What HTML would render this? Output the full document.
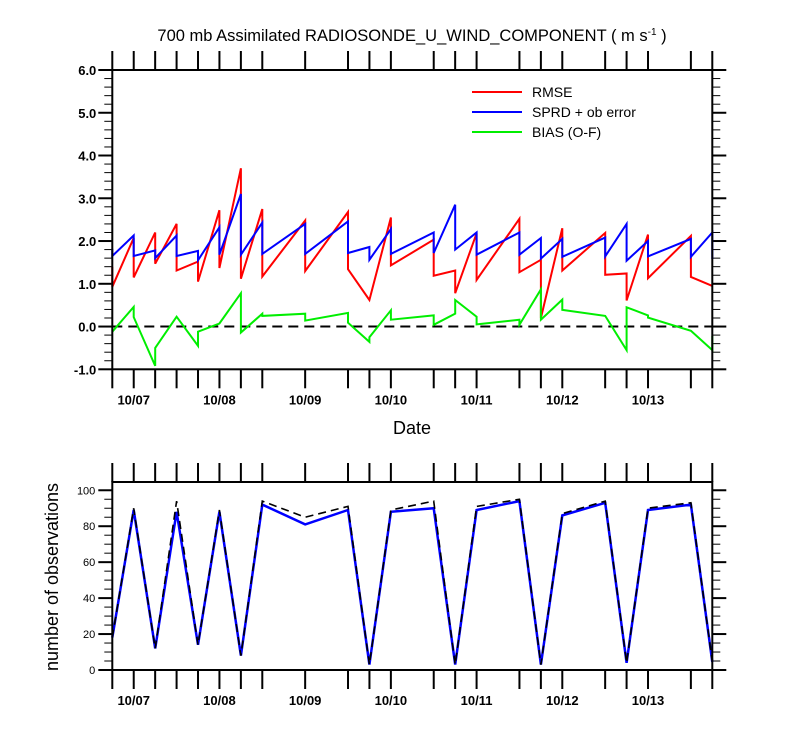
<!DOCTYPE html>
<html><head><meta charset="utf-8"><style>
body{margin:0;background:#fff}
svg{display:block;font-family:"Liberation Sans",Arial,sans-serif}
</style></head><body>
<svg id="c" width="800" height="750" viewBox="0 0 800 750">
<text x="412" y="41" font-size="16.5" text-anchor="middle">700 mb Assimilated RADIOSONDE_U_WIND_COMPONENT ( m s<tspan dy="-6" font-size="10">-1</tspan><tspan dy="6"> )</tspan></text>
<g id="top"></g><g id="bot"></g>
</svg>
<script>
// x index = 6-hour steps from 10/06 18Z
const tickIdx=[0,1,2,3,4,5,6,7,9,11,12,13,15,16,17,19,20,21,23,24,25,27,28];
const dateLabels=["10/07","10/08","10/09","10/10","10/11","10/12","10/13"];
const dateLabelIdx=[1,5,9,13,17,21,25];
const rmseX=[0,0,1,1,2,2,3,3,4,4,5,5,6,6,7,7,9,9,11,11,12,13,13,15,15,16,16,17,17,19,19,20,20,21,21,23,23,24,24,25,25,27,27,28];
const rmseY=[1.4,0.93,2.07,1.15,2.2,1.47,2.4,1.31,1.52,1.05,2.72,1.37,3.7,1.12,2.75,1.17,2.48,1.3,2.68,1.34,0.62,2.55,1.43,2.03,1.19,1.31,0.78,2.18,1.09,2.52,1.27,1.56,0.2,2.3,1.31,2.19,1.21,1.24,0.61,2.15,1.13,2.12,1.16,0.95];
const sprdX=[0,0,1,1,2,2,3,3,4,4,5,5,6,6,7,7,9,9,11,11,12,12,13,13,15,15,16,16,17,17,19,19,20,20,21,21,23,23,24,24,25,25,27,27,28,28];
const sprdY=[1.82,1.65,2.13,1.65,1.78,1.6,2.13,1.65,1.77,1.55,2.32,1.68,3.1,1.68,2.43,1.7,2.4,1.7,2.46,1.72,1.86,1.56,2.28,1.7,2.2,1.72,2.85,1.8,2.2,1.68,2.2,1.68,2.07,1.59,2.05,1.63,2.08,1.64,2.4,1.54,2.0,1.64,2.05,1.63,2.2,1.58];
const biasX=[0,1,1,2,2,3,4,4,5,6,6,7,7,9,9,11,11,12,12,13,13,15,15,16,16,17,17,19,19,20,20,21,21,23,24,24,25,25,27,28,28];
const biasY=[-0.12,0.46,0.22,-0.92,-0.5,0.23,-0.45,-0.12,0.07,0.78,-0.14,0.3,0.25,0.3,0.14,0.32,0.09,-0.36,-0.25,0.38,0.16,0.26,0.04,0.3,0.62,0.23,0.05,0.16,0.04,0.87,0.16,0.63,0.39,0.25,-0.55,0.45,0.26,0.21,-0.1,-0.55,-0.22];
const obsX=[0,1,2,3,4,5,6,7,9,11,12,13,15,16,17,19,20,21,23,24,25,27,28];
const usedObs=[18,89,12,88,14,88,8,92,81,89,3,88,90,3,89,94,3,86,93,4,89,92,4.5];
const totalObs=[18,90,12,94,14,89,8,94,85,91,3,89,94,3,91,95,3,87,94,4,90,93,4.5];
const topYTicks=[-1,0,1,2,3,4,5,6];
const botYTicks=[0,20,40,60,80,100];

const NS="http://www.w3.org/2000/svg";
function el(p,t,a){const e=document.createElementNS(NS,t);for(const k in a)e.setAttribute(k,a[k]);p.appendChild(e);return e;}
const X0=112.3,X1=712.3,XS=(X1-X0)/28;
const sx=i=>X0+i*XS;
const T={y0:70,y1:369.3,min:-1,max:6};
const B={y0:482,y1:670,min:0,max:104.6};
const syT=v=>T.y1-(v-T.min)/(T.max-T.min)*(T.y1-T.y0);
const syB=v=>B.y1-(v-B.min)/(B.max-B.min)*(B.y1-B.y0);

function frame(g,P,sy,name){
  const f=el(g,'rect',{x:X0,y:P.y0,width:X1-X0,height:P.y1-P.y0,fill:'none',stroke:'#000','stroke-width':2});
  
  
  tickIdx.forEach(i=>{
    el(g,'line',{x1:sx(i),x2:sx(i),y1:P.y1,y2:P.y1+19,stroke:'#000','stroke-width':2});
    el(g,'line',{x1:sx(i),x2:sx(i),y1:P.y0,y2:P.y0-19,stroke:'#000','stroke-width':2});
  });
  dateLabels.forEach((d,k)=>{
    const t=el(g,'text',{x:sx(dateLabelIdx[k]),y:P.y1+35,'font-size':13,'font-weight':'bold','text-anchor':'middle'});
    t.textContent=d;
    
    
  });
}
function poly(g,xs,ys,sy,color,w,dash,name){
  const pts=xs.map((x,i)=>sx(x).toFixed(1)+','+sy(ys[i]).toFixed(1)).join(' ');
  const p=el(g,'polyline',{points:pts,fill:'none',stroke:color,'stroke-width':w,'stroke-linejoin':'miter'});
  if(dash)p.setAttribute('stroke-dasharray',dash);
  
  
}
// TOP
const gt=document.getElementById('top');
for(let v=-1;v<=6.001;v+=0.2){
  const maj=Math.abs(v-Math.round(v))<1e-6;
  const y=syT(v);
  el(gt,'line',{x1:X0,x2:X0-(maj?14:8),y1:y,y2:y,stroke:'#000','stroke-width':maj?2:1});
  el(gt,'line',{x1:X1,x2:X1+(maj?14:8),y1:y,y2:y,stroke:'#000','stroke-width':maj?2:1});
}
topYTicks.forEach(v=>{
  const t=el(gt,'text',{x:X0-16,y:syT(v)+5,'font-size':13,'font-weight':'bold','text-anchor':'end'});
  t.textContent=v.toFixed(1);
  
  
});
el(gt,'line',{x1:X0,x2:X1,y1:syT(0),y2:syT(0),stroke:'#000','stroke-width':2,'stroke-dasharray':'10,6'});
poly(gt,rmseX,rmseY,syT,'#ff0000',2,null,'rmse-line');
poly(gt,sprdX,sprdY,syT,'#0000ff',2,null,'sprd-line');
poly(gt,biasX,biasY,syT,'#00ee00',2,null,'bias-line');
frame(gt,T,syT,'top-plot');
const dt=el(gt,'text',{x:412,y:434,'font-size':18,'text-anchor':'middle'});dt.textContent='Date';


[['RMSE','#ff0000',92],['SPRD + ob error','#0000ff',112],['BIAS (O-F)','#00ee00',132]].forEach(([n,c,y])=>{
  el(gt,'line',{x1:472,x2:522,y1:y,y2:y,stroke:c,'stroke-width':2});
  const t=el(gt,'text',{x:532,y:y+5,'font-size':14});t.textContent=n;
  
  
});
// BOTTOM
const gb=document.getElementById('bot');
for(let v=0;v<=104;v+=5){
  const maj=v%20===0;const y=syB(v);
  el(gb,'line',{x1:X0,x2:X0-(maj?14:8),y1:y,y2:y,stroke:'#000','stroke-width':maj?2:1});
  el(gb,'line',{x1:X1,x2:X1+(maj?14:8),y1:y,y2:y,stroke:'#000','stroke-width':maj?2:1});
}
botYTicks.forEach(v=>{
  const t=el(gb,'text',{x:X0-17,y:syB(v)+4,'font-size':11,'text-anchor':'end'});
  t.textContent=v;
  
  
});
poly(gb,obsX,usedObs,syB,'#0000ff',2.5,null,'used-obs-line');
poly(gb,obsX,totalObs,syB,'#000',1.6,'8,5','total-obs-line');
frame(gb,B,syB,'bottom-plot');
const yt=el(gb,'text',{x:0,y:0,'font-size':18,'text-anchor':'middle',transform:'translate(58,577) rotate(-90)'});
yt.textContent='number of observations';


</script>
</body></html>
